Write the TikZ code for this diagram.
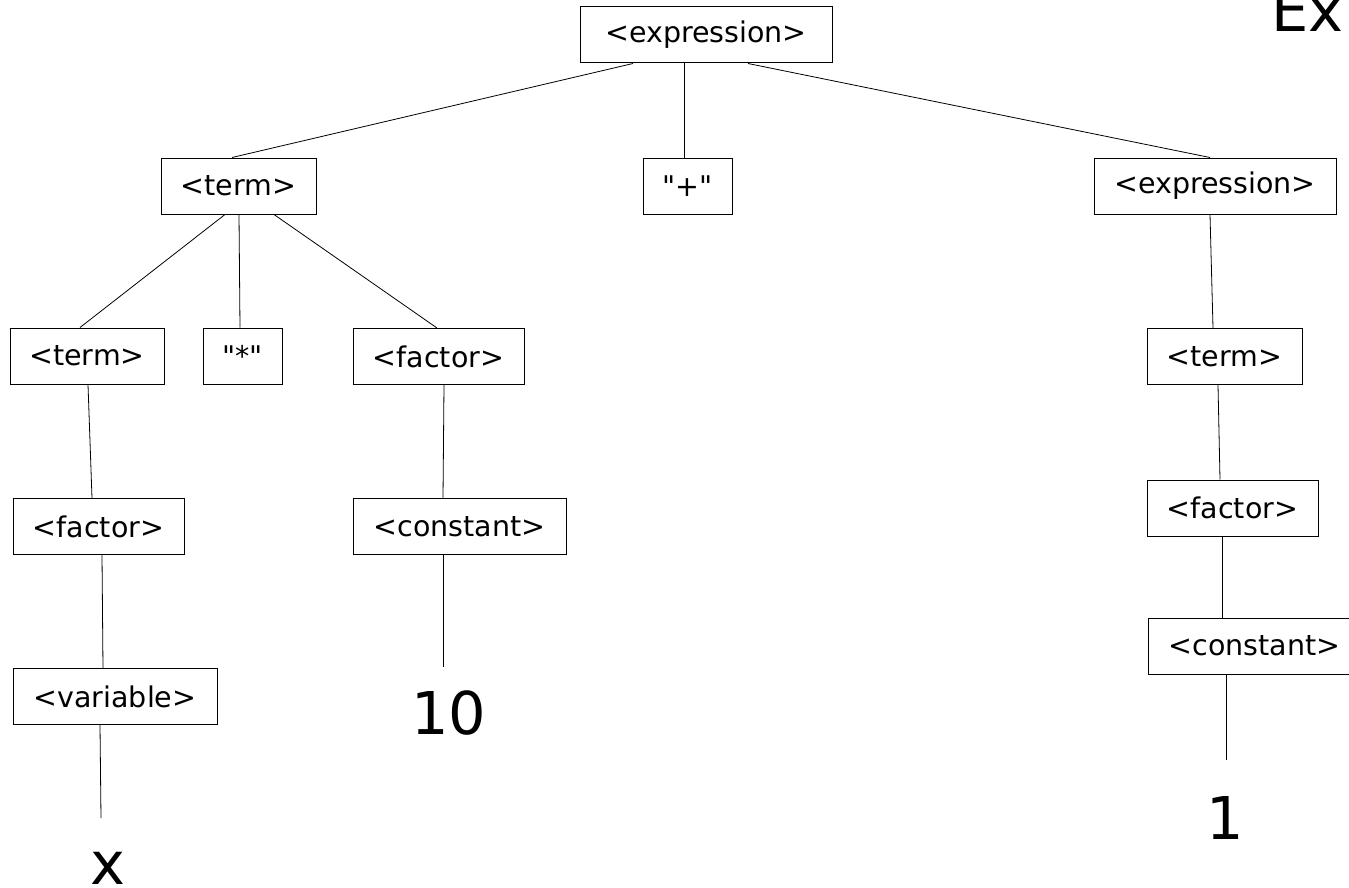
\documentclass[tikz,border=0pt]{standalone}
\usepackage{fontspec}
% plain family: no TeX quote mapping, so " stays a straight quote
\newfontfamily\dv{DejaVu Sans}
\begin{document}
\begin{tikzpicture}[x=1pt,y=-1pt,
  sym/.style={draw=black, line width=1pt, minimum height=56pt, inner sep=0pt,
              font=\dv\fontsize{28.5}{34}\selectfont},
  leaf/.style={inner sep=0pt, font=\dv\fontsize{59}{70}\selectfont},
  edge/.style={draw=black, line width=0.8pt}]
\useasboundingbox (0,0) rectangle (1349,888);

% grammar symbols
\node[sym, minimum width=252pt] (e0)  at (706,35)      {<expression>};
\node[sym, minimum width=155pt] (t1)  at (238.5,186)   {<term>};
\node[sym, minimum width=89pt]  (plus) at (687.5,186)  {"+"};
\node[sym, minimum width=242pt] (e1)  at (1215,186)    {<expression>};
\node[sym, minimum width=154pt] (t2)  at (87,356)      {<term>};
\node[sym, minimum width=79pt]  (star) at (242.5,356)  {"*"};
\node[sym, minimum width=171pt] (f2)  at (438.5,356.5) {<factor>};
\node[sym, minimum width=171pt] (f3)  at (98.5,526.5)  {<factor>};
\node[sym, minimum width=213pt] (c3)  at (459.5,526.5) {<constant>};
\node[sym, minimum width=204pt] (v4)  at (115,696.5)   {<variable>};
\node[sym, minimum width=155pt] (t2r) at (1224.5,356.5){<term>};
\node[sym, minimum width=171pt] (f3r) at (1232.5,508)  {<factor>};
\node[sym, minimum width=213pt] (c4r) at (1254.5,646)  {<constant>};

% terminal values
\node[leaf, anchor=base] (xv)  at (108,884)  {x};
\node[leaf] (ten) at (449,713)  {10};
\node[leaf] (one) at (1225,818) {1};
\node[leaf, anchor=base west] (ttl) at (1271,32) {Ex};

% free ends of the leaf branches
\coordinate (xend)   at (101,818);
\coordinate (tenend) at (443,667);
\coordinate (oneend) at (1226,760);

% branches
\draw[edge] ([xshift=-73pt]e0.south) -- ([xshift=-6.5pt]t1.north);
\draw[edge] ([xshift=-22pt]e0.south) -- ([xshift=-3.5pt]plus.north);
\draw[edge] ([xshift=42pt]e0.south)  -- ([xshift=-5pt]e1.north);
\draw[edge] ([xshift=-13.5pt]t1.south) -- ([xshift=-7pt]t2.north);
\draw[edge] ([xshift=0.5pt]t1.south)   -- ([xshift=-2.5pt]star.north);
\draw[edge] ([xshift=35.5pt]t1.south)  -- ([xshift=-1.5pt]f2.north);
\draw[edge] ([xshift=1pt]t2.south)     -- ([xshift=-6.5pt]f3.north);
\draw[edge] ([xshift=3.5pt]f3.south)   -- ([xshift=-12pt]v4.north);
\draw[edge] ([xshift=-15pt]v4.south)   -- (xend);
\draw[edge] ([xshift=5.5pt]f2.south)   -- ([xshift=-16.5pt]c3.north);
\draw[edge] ([xshift=-16.5pt]c3.south) -- (tenend);
\draw[edge] ([xshift=-5pt]e1.south)    -- ([xshift=-11.5pt]t2r.north);
\draw[edge] ([xshift=-6.5pt]t2r.south) -- ([xshift=-12.5pt]f3r.north);
\draw[edge] ([xshift=-10.5pt]f3r.south) -- ([xshift=-32.5pt]c4r.north);
\draw[edge] ([xshift=-28.5pt]c4r.south) -- (oneend);
\end{tikzpicture}
\end{document}
